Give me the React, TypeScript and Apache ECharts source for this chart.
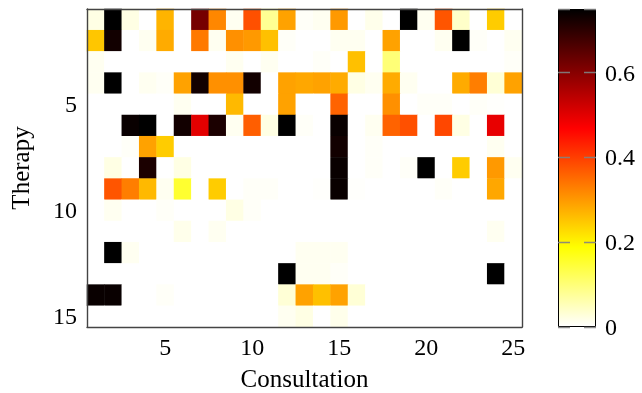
import React, { useEffect, useRef } from "react";
import * as echarts from "echarts";

const consultations = ["1","2","3","4","5","6","7","8","9","10","11","12","13","14","15","16","17","18","19","20","21","22","23","24","25"];
const therapies = ["1","2","3","4","5","6","7","8","9","10","11","12","13","14","15"];

const therapy1 = [0.02,0.75,0.02,0,0.27,0,0.62,0.32,0.01,0.38,0.08,0.29,0.005,0.01,0.3,0,0.015,0,0.75,0.01,0.375,0.04,0,0.244,0];
const therapy2 = [0.25,0.73,0,0.01,0.28,0,0.335,0.01,0.31,0.3,0.257,0.005,0,0,0.01,0.01,0,0.29,0,0,0.01,0.75,0.005,0,0.01];
const therapy3 = [0.01,0,0,0,0,0,0,0,0.01,0,0.01,0,0,0.005,0,0.257,0,0.1,0,0,0,0,0,0,0.005];
const therapy4 = [0.01,0.75,0,0.01,0.005,0.29,0.73,0.31,0.31,0.73,0,0.29,0.285,0.29,0.28,0.02,0.01,0.28,0.01,0,0,0.28,0.33,0.03,0.29];
const therapy5 = [0,0,0,0,0,0.01,0,0,0.265,0,0,0.29,0,0,0.36,0,0,0.31,0,0.005,0.005,0,0.005,0.002,0];
const therapy6 = [0,0,0.74,0.75,0,0.73,0.5,0.72,0.01,0.365,0.02,0.75,0.005,0,0.74,0,0.01,0.36,0.38,0,0.39,0.02,0,0.494,0];
const therapy7 = [0,0,0.005,0.29,0.244,0,0,0,0,0,0,0,0,0,0.73,0,0.005,0,0,0,0,0,0,0.01,0];
const therapy8 = [0,0.02,0,0.72,0,0.02,0,0,0,0,0,0,0,0,0.74,0,0.005,0,0.005,0.75,0,0.244,0,0.3,0.01];
const therapy9 = [0,0.375,0.33,0.265,0.01,0.152,0,0.244,0,0.005,0.005,0,0,0.002,0.74,0.002,0,0,0,0,0.005,0,0,0.285,0];
const therapy10 = [0,0.01,0,0,0.005,0,0,0,0.02,0.005,0,0,0,0,0,0,0,0,0,0,0,0,0,0,0];
const therapy11 = [0,0,0,0,0,0.015,0,0.01,0,0,0,0,0,0,0,0,0,0,0,0,0,0,0,0.01,0];
const therapy12 = [0,0.75,0.01,0,0,0,0,0,0,0,0,0,0.01,0.01,0.01,0,0,0,0,0,0,0,0,0,0];
const therapy13 = [0,0,0,0,0,0,0,0,0,0,0,0.75,0.01,0.01,0.005,0,0,0,0,0,0,0,0,0.75,0];
const therapy14 = [0.74,0.74,0,0,0.005,0,0,0,0,0,0,0.03,0.29,0.257,0.29,0.03,0,0,0,0,0,0,0,0,0];
const therapy15 = [0,0,0,0,0,0,0,0,0,0,0,0.01,0.02,0,0.015,0,0,0,0,0,0,0,0,0,0];

const rows = [therapy1, therapy2, therapy3, therapy4, therapy5, therapy6, therapy7, therapy8, therapy9, therapy10, therapy11, therapy12, therapy13, therapy14, therapy15];

const colorMax = 0.75;
const colorTickStep = 0.2;
const hotReversed = ["#ffffff", "#ffff80", "#ffff00", "#ffaa00", "#ff5500", "#ff0000", "#aa0000", "#550000", "#000000"];

export default function App() {
  const ref = useRef<HTMLDivElement>(null);
  useEffect(() => {
    const chart = echarts.init(ref.current!, undefined, { renderer: "svg" });
    const data: number[][] = [];
    rows.forEach((row, y) => row.forEach((v, x) => data.push([x, y, v])));
    const font = "Liberation Serif";
    const every5 = (i: number) => (i + 1) % 5 === 0;
    const frame = { lineStyle: { color: "#444", width: 1.4 } };
    const tick = { inside: true, length: 10, alignWithLabel: true, interval: every5, lineStyle: { color: "#888", width: 1.2 } };
    const label = { fontFamily: font, fontSize: 24, color: "#000" };
    const nameStyle = { fontFamily: font, fontSize: 25, lineHeight: 22, color: "#000" };
    chart.setOption({
      animation: false,
      grid: [
        { left: 87, top: 9, width: 435, height: 318, containLabel: false, outerBoundsMode: "none" },
        { left: 558, top: 9, width: 38, height: 318, containLabel: false, outerBoundsMode: "none" },
      ],
      visualMap: {
        type: "continuous", min: 0, max: colorMax, show: false, seriesIndex: 0,
        inRange: { color: hotReversed },
      },
      xAxis: [
        {
          type: "category", data: consultations, gridIndex: 0, position: "bottom", z: 5,
          axisLine: frame, axisTick: tick,
          axisLabel: { ...label, interval: every5, margin: 8 },
          splitLine: { show: false },
          name: "Consultation", nameLocation: "middle", nameGap: 40, nameTextStyle: nameStyle,
        },
        {
          type: "category", data: consultations, gridIndex: 0, position: "top", z: 5,
          axisLine: frame, axisTick: tick, axisLabel: { show: false }, splitLine: { show: false },
        },
        { type: "category", data: [""], gridIndex: 1, show: false },
      ],
      yAxis: [
        {
          type: "category", data: therapies, inverse: true, gridIndex: 0, position: "left", z: 5,
          axisLine: frame, axisTick: tick,
          axisLabel: { ...label, interval: every5, margin: 10 },
          splitLine: { show: false },
          name: "Therapy", nameLocation: "middle", nameGap: 56, nameRotate: 90, nameTextStyle: nameStyle,
        },
        {
          type: "category", data: therapies, inverse: true, gridIndex: 0, position: "right", z: 5,
          axisLine: frame, axisTick: tick, axisLabel: { show: false }, splitLine: { show: false },
        },
        {
          type: "value", gridIndex: 1, min: 0, max: colorMax, interval: colorTickStep, position: "right", z: 5,
          axisLine: { show: false }, axisTick: { show: false },
          axisLabel: { ...label, margin: 9, showMaxLabel: false },
          splitLine: { show: true, lineStyle: { color: "rgba(130,130,130,0.9)", type: [12, 14], width: 1.3 } },
        },
      ],
      series: [
        {
          type: "heatmap", xAxisIndex: 0, yAxisIndex: 0, data, progressive: 0,
          emphasis: { disabled: true }, itemStyle: { borderWidth: 0 },
        },
        {
          type: "bar", xAxisIndex: 2, yAxisIndex: 2, data: [colorMax], barWidth: "100%", silent: true, z: 1,
          itemStyle: {
            color: new echarts.graphic.LinearGradient(0, 0, 0, 1, [
              { offset: 0, color: "#000000" },
              { offset: 0.375, color: "#ff0000" },
              { offset: 0.75, color: "#ffff00" },
              { offset: 1, color: "#ffffff" },
            ]),
            borderColor: "#000", borderWidth: 1,
          },
        },
      ],
    });
    return () => chart.dispose();
  }, []);
  return <div ref={ref} style={{ position: "fixed", left: 0, top: 0, width: 642, height: 393 }} />;
}
